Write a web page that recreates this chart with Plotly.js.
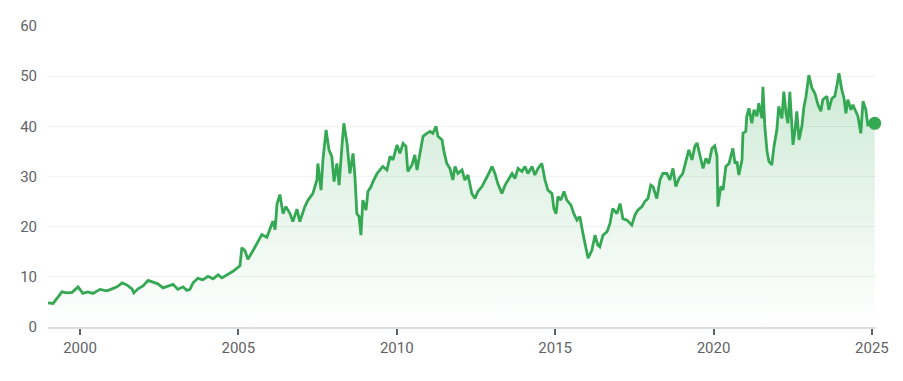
<!DOCTYPE html>
<html>
<head>
<meta charset="utf-8">
<script src="https://cdn.plot.ly/plotly-3.0.1.min.js"></script>
<style>html,body{margin:0;padding:0;background:#fff;}#chart{width:903px;height:381px;}</style>
</head>
<body>
<div id="chart"></div>
<script>
const years = [
1998.99,1999.15,1999.31,1999.43,1999.59,1999.75,1999.94,2000.09,2000.25,2000.41,2000.63,2000.85,2001.01,2001.17,2001.33,2001.48,2001.64,2001.70,2001.83,2001.99,
2002.15,2002.30,2002.46,2002.62,2002.78,2002.94,2003.09,2003.25,2003.38,2003.47,2003.57,2003.72,2003.88,2004.04,2004.20,2004.36,2004.48,2004.64,2004.83,2005.05,
2005.11,2005.21,2005.30,2005.46,2005.62,2005.74,2005.90,2006.00,2006.09,2006.16,2006.22,2006.31,2006.41,2006.50,2006.63,2006.72,2006.85,2006.94,
2007.10,2007.20,2007.35,2007.48,2007.51,2007.61,2007.67,2007.77,2007.86,2007.95,2008.02,2008.11,2008.18,2008.27,2008.33,2008.43,2008.52,2008.62,2008.68,2008.74,2008.81,2008.87,
2008.93,2009.03,2009.09,2009.19,2009.25,2009.38,2009.47,2009.56,2009.69,2009.79,2009.88,2010.01,2010.10,2010.20,2010.29,2010.35,2010.48,2010.57,2010.64,2010.73,2010.83,2010.95,
2011.05,2011.14,2011.24,2011.30,2011.43,2011.49,2011.58,2011.68,2011.77,2011.84,2011.93,2012.06,2012.15,2012.25,2012.37,2012.47,2012.56,2012.69,2012.78,2012.88,
2013.01,2013.10,2013.19,2013.32,2013.42,2013.51,2013.64,2013.73,2013.83,2013.95,2014.05,2014.14,2014.27,2014.36,2014.46,2014.58,2014.68,2014.77,2014.90,2014.96,
2015.03,2015.09,2015.18,2015.28,2015.37,2015.50,2015.59,2015.69,2015.78,2015.88,2015.97,2016.04,2016.16,2016.26,2016.35,2016.41,2016.51,2016.64,2016.73,2016.82,2016.95,
2017.05,2017.14,2017.27,2017.42,2017.52,2017.61,2017.74,2017.83,2017.93,2018.02,2018.09,2018.21,2018.31,2018.40,2018.53,2018.62,2018.72,2018.81,2018.91,
2019.03,2019.13,2019.22,2019.32,2019.41,2019.48,2019.60,2019.67,2019.76,2019.85,2019.95,2020.04,2020.11,2020.14,2020.23,2020.30,2020.39,2020.49,2020.61,2020.68,2020.74,2020.80,2020.90,2020.93,
2021.02,2021.05,2021.12,2021.21,2021.28,2021.37,2021.43,2021.53,2021.56,2021.62,2021.69,2021.75,2021.84,2021.91,2022.00,2022.06,2022.16,2022.22,2022.29,2022.35,2022.41,2022.51,2022.57,2022.63,2022.70,2022.79,2022.85,2022.92,
2023.01,2023.11,2023.20,2023.30,2023.39,2023.45,2023.58,2023.64,2023.74,2023.83,2023.90,2023.96,2024.05,2024.12,2024.18,2024.24,2024.34,2024.40,2024.49,2024.56,2024.65,2024.72,2024.81,2024.87,2025.00,2025.09
];
const prices = [
4.8,4.7,6.0,7.0,6.8,6.9,8.0,6.7,7.0,6.7,7.5,7.2,7.6,8.0,8.8,8.4,7.6,6.8,7.6,8.2,
9.3,9.0,8.6,7.8,8.2,8.5,7.5,8.0,7.3,7.5,8.8,9.7,9.4,10.1,9.6,10.4,9.8,10.4,11.1,12.2,
15.8,15.2,13.5,15.2,17.2,18.4,17.9,19.7,21.1,19.4,24.5,26.4,22.6,24.0,22.6,21.0,23.5,21.0,
24.0,25.3,26.6,29.3,32.6,27.3,33.3,39.3,35.3,34.0,29.0,32.6,28.3,36.0,40.6,36.6,30.6,34.6,30.0,22.6,22.0,18.3,
25.3,23.3,27.0,28.0,29.0,30.6,31.3,32.0,31.3,34.0,33.3,36.3,34.6,36.6,36.0,31.0,32.3,34.3,31.3,34.6,38.0,38.6,
39.0,38.6,40.0,38.0,37.3,35.0,32.6,31.6,29.3,32.0,30.6,31.3,29.3,30.3,26.6,25.6,27.0,28.0,29.0,30.3,
32.0,30.6,28.6,26.6,28.3,29.3,30.6,29.6,31.6,31.0,32.0,30.6,32.0,30.3,31.6,32.6,29.3,27.3,26.6,23.6,
22.6,26.0,25.3,27.0,25.3,24.3,22.6,21.3,22.0,18.6,16.0,13.7,15.3,18.3,16.3,16.0,18.3,19.0,20.6,23.6,22.6,
24.6,21.6,21.3,20.3,22.3,23.3,24.0,25.0,25.6,28.3,28.0,25.6,29.3,30.6,30.6,29.3,31.6,28.0,29.6,
30.6,33.3,35.3,33.3,36.0,36.7,33.3,31.6,33.6,32.6,35.6,36.1,34.0,24.0,28.0,27.3,32.0,32.6,35.6,32.6,33.0,30.3,33.3,38.6,
39.0,42.0,43.6,40.6,43.3,42.0,44.6,41.6,47.9,40.0,35.0,33.0,32.3,36.0,39.3,44.0,41.6,46.9,42.6,40.6,46.9,36.3,39.0,43.0,37.3,40.0,43.6,46.0,
50.2,47.6,46.6,44.3,43.0,45.3,46.0,43.3,45.6,46.0,48.3,50.6,47.3,45.6,42.6,45.3,43.3,44.3,43.0,42.0,38.6,45.0,43.3,40.3,40.6,40.6
];
const yTicks = [0,10,20,30,40,50,60];
const xTicks = [2000,2005,2010,2015,2020,2025];
const xTickLabels = ['2000','2005','2010','2015','2020','2025'];

const green = '#34a853';
const traces = [
  {
    x: years, y: prices, type: 'scatter', mode: 'lines',
    line: {color: green, width: 2.8, shape: 'linear'},
    fill: 'tozeroy',
    fillgradient: {type: 'vertical', start: 0, stop: 50,
      colorscale: [[0, 'rgba(52,168,83,0)'], [1, 'rgba(52,168,83,0.24)']]},
    hoverinfo: 'skip'
  },
  {
    x: [years[years.length-1]], y: [prices[prices.length-1]],
    type: 'scatter', mode: 'markers',
    marker: {color: green, size: 13},
    hoverinfo: 'skip', cliponaxis: false
  }
];
const layout = {
  width: 903, height: 381,
  margin: {l: 48, r: 27, t: 26, b: 54},
  paper_bgcolor: '#ffffff', plot_bgcolor: '#ffffff',
  showlegend: false,
  font: {family: 'Roboto, Arial, sans-serif', size: 15, color: '#5f6368'},
  xaxis: {
    range: [1998.99, 2025.13], tickmode: 'array', tickvals: xTicks, ticktext: xTickLabels,
    showgrid: false, zeroline: false, showline: true, linecolor: '#dadce0', linewidth: 1.5,
    ticks: 'outside', ticklen: 6, tickwidth: 2, tickcolor: '#5f6368',
    tickfont: {size: 15, color: '#5f6368'}, fixedrange: true
  },
  yaxis: {
    range: [0, 60], tickmode: 'array', tickvals: yTicks,
    showgrid: true, gridcolor: '#f1f3f4', gridwidth: 1, zeroline: false, showline: false,
    ticks: '', ticklabelstandoff: 10, tickfont: {size: 15, color: '#5f6368'}, fixedrange: true
  },
  hovermode: false
};
Plotly.newPlot('chart', traces, layout, {displayModeBar: false, staticPlot: true});
</script>
</body>
</html>
